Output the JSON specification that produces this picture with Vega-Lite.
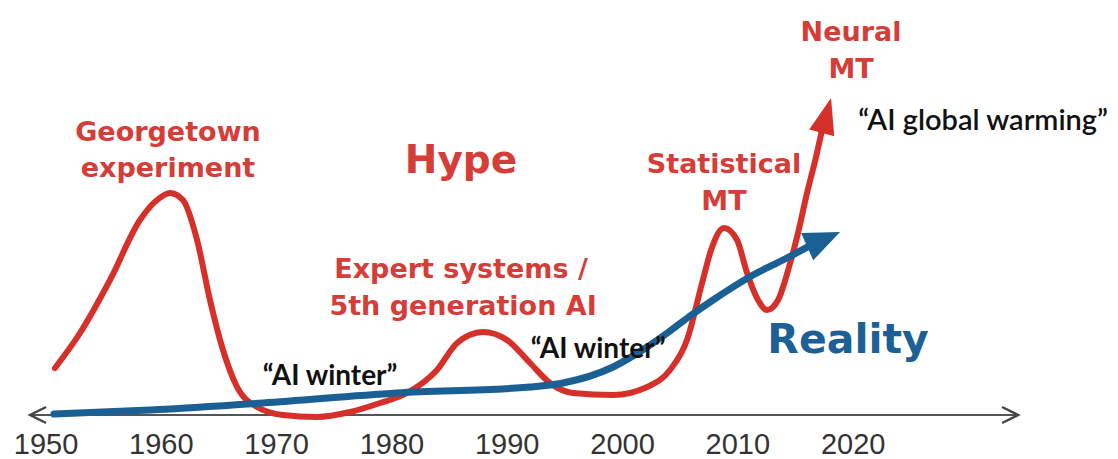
{
  "$schema": "https://vega.github.io/schema/vega-lite/v6.json",
  "width": 1118,
  "height": 459,
  "padding": 0,
  "autosize": {"type": "none"},
  "background": "white",
  "config": {"view": {"stroke": null}},
  "encoding": {
    "x": {"field": "yr", "type": "quantitative", "scale": {"domain": [1946.01, 2042.97], "nice": false, "zero": false}, "axis": null},
    "y": {"field": "v", "type": "quantitative", "scale": {"domain": [-46, 413], "nice": false, "zero": false}, "axis": null}
  },
  "layer": [
    {
      "data": {"values": [{"yr": 1948.61, "yr2": 2034.39, "v": -2}]},
      "mark": {"type": "rule", "color": "#555555", "strokeWidth": 2.2},
      "encoding": {"x2": {"field": "yr2"}}
    },
    {
      "data": {"values": [{"yr": 1949.31, "v": -2, "dir": "left"}, {"yr": 2033.61, "v": -2, "dir": "right"}]},
      "mark": {"type": "point", "filled": false, "stroke": "#444444", "strokeWidth": 2.4, "size": 256, "opacity": 1},
      "encoding": {
        "shape": {"field": "dir", "type": "nominal", "scale": {"domain": ["left", "right"], "range": ["M1,-1L-1,0L1,1", "M-1,-1L1,0L-1,1"]}, "legend": null}
      }
    },
    {
      "data": {"values": [
        {"yr": 1950.78, "v": 45}, {"yr": 1952.95, "v": 80}, {"yr": 1955.55, "v": 133}, {"yr": 1958.15, "v": 193},
        {"yr": 1959.63, "v": 213}, {"yr": 1960.75, "v": 220}, {"yr": 1961.88, "v": 213}, {"yr": 1963.10, "v": 173},
        {"yr": 1964.22, "v": 113}, {"yr": 1965.35, "v": 63}, {"yr": 1966.57, "v": 26}, {"yr": 1968.30, "v": 6},
        {"yr": 1970.56, "v": -2}, {"yr": 1973.50, "v": -4}, {"yr": 1976.37, "v": 1}, {"yr": 1978.97, "v": 10},
        {"yr": 1981.31, "v": 20}, {"yr": 1983.91, "v": 43}, {"yr": 1985.65, "v": 70}, {"yr": 1987.90, "v": 81},
        {"yr": 1989.98, "v": 73}, {"yr": 1991.98, "v": 50}, {"yr": 1993.71, "v": 30}, {"yr": 1995.71, "v": 20},
        {"yr": 1999.18, "v": 18}, {"yr": 2002.13, "v": 26}, {"yr": 2004.12, "v": 43}, {"yr": 2005.59, "v": 73},
        {"yr": 2006.90, "v": 130}, {"yr": 2007.68, "v": 163}, {"yr": 2008.80, "v": 185}, {"yr": 2009.93, "v": 173},
        {"yr": 2010.80, "v": 140}, {"yr": 2011.75, "v": 113}, {"yr": 2012.53, "v": 103}, {"yr": 2013.49, "v": 113},
        {"yr": 2014.44, "v": 146}, {"yr": 2015.22, "v": 180}, {"yr": 2016.00, "v": 220}, {"yr": 2016.78, "v": 256},
        {"yr": 2017.30, "v": 283}
      ]},
      "mark": {"type": "line", "interpolate": "monotone", "color": "#d6302b", "strokeWidth": 6, "strokeCap": "round", "strokeJoin": "round"}
    },
    {
      "data": {"values": [{"yr": 2017.68, "v": 297.6}]},
      "mark": {"type": "point", "shape": "M0,-1L0.72,1L-0.72,1Z", "size": 1296, "angle": 15, "filled": true, "color": "#d6302b", "opacity": 1}
    },
    {
      "data": {"values": [
        {"yr": 1950.69, "v": -1}, {"yr": 1959.02, "v": 3}, {"yr": 1968.82, "v": 10}, {"yr": 1980.44, "v": 20},
        {"yr": 1991.98, "v": 26}, {"yr": 1994.84, "v": 30}, {"yr": 1999.18, "v": 46}, {"yr": 2002.13, "v": 66},
        {"yr": 2004.12, "v": 82}, {"yr": 2005.85, "v": 97}, {"yr": 2007.85, "v": 113}, {"yr": 2011.32, "v": 138},
        {"yr": 2014.09, "v": 154}, {"yr": 2016.35, "v": 168}
      ]},
      "mark": {"type": "line", "interpolate": "monotone", "color": "#1b6094", "strokeWidth": 7, "strokeCap": "round", "strokeJoin": "round"}
    },
    {
      "data": {"values": [{"yr": 2017.44, "v": 173.7}]},
      "mark": {"type": "point", "shape": "M0,-1L0.83,1L-0.83,1Z", "size": 1296, "angle": 66, "filled": true, "color": "#1b6094", "opacity": 1}
    },
    {
      "data": {"values": [
        {"yr": 1950, "v": -41, "label": "1950"}, {"yr": 1960, "v": -41, "label": "1960"},
        {"yr": 1970, "v": -41, "label": "1970"}, {"yr": 1980, "v": -41, "label": "1980"},
        {"yr": 1990, "v": -41, "label": "1990"}, {"yr": 2000, "v": -41, "label": "2000"},
        {"yr": 2010, "v": -41, "label": "2010"}, {"yr": 2020, "v": -41, "label": "2020"}
      ]},
      "mark": {"type": "text", "font": "Liberation Sans", "fontSize": 29, "color": "#333333", "align": "center", "baseline": "alphabetic"},
      "encoding": {"text": {"field": "label"}}
    },
    {
      "data": {"values": [
        {"yr": 1960.58, "v": 272, "label": "Georgetown"},
        {"yr": 1960.58, "v": 236, "label": "experiment"},
        {"yr": 1985.99, "v": 135, "label": "Expert systems /"},
        {"yr": 1986.17, "v": 98, "label": "5th generation AI"},
        {"yr": 2008.80, "v": 240, "label": "Statistical"},
        {"yr": 2008.80, "v": 203, "label": "MT"},
        {"yr": 2019.82, "v": 372, "label": "Neural"},
        {"yr": 2019.82, "v": 335, "label": "MT"}
      ]},
      "mark": {"type": "text", "font": "DejaVu Sans", "fontWeight": "bold", "fontSize": 27, "color": "#d53d39", "align": "center", "baseline": "alphabetic"},
      "encoding": {"text": {"field": "label"}}
    },
    {
      "data": {"values": [{"yr": 1985.99, "v": 240, "label": "Hype"}]},
      "mark": {"type": "text", "font": "DejaVu Sans", "fontWeight": "bold", "fontSize": 39, "color": "#d53d39", "align": "center", "baseline": "alphabetic"},
      "encoding": {"text": {"field": "label"}}
    },
    {
      "data": {"values": [{"yr": 2019.56, "v": 60, "label": "Reality"}]},
      "mark": {"type": "text", "font": "DejaVu Sans", "fontWeight": "bold", "fontSize": 41, "color": "#1c6095", "align": "center", "baseline": "alphabetic"},
      "encoding": {"text": {"field": "label"}}
    },
    {
      "data": {"values": [
        {"yr": 1974.63, "v": 28, "label": "“AI winter”"},
        {"yr": 1997.88, "v": 55, "label": "“AI winter”"}
      ]},
      "mark": {"type": "text", "font": "Lato", "fontWeight": "bold", "fontSize": 28, "color": "#111111", "align": "center", "baseline": "alphabetic"},
      "encoding": {"text": {"field": "label"}}
    },
    {
      "data": {"values": [{"yr": 2031.27, "v": 283, "label": "“AI global warming”"}]},
      "mark": {"type": "text", "font": "Lato", "fontWeight": 600, "fontSize": 29, "color": "#111111", "align": "center", "baseline": "alphabetic"},
      "encoding": {"text": {"field": "label"}}
    }
  ]
}
